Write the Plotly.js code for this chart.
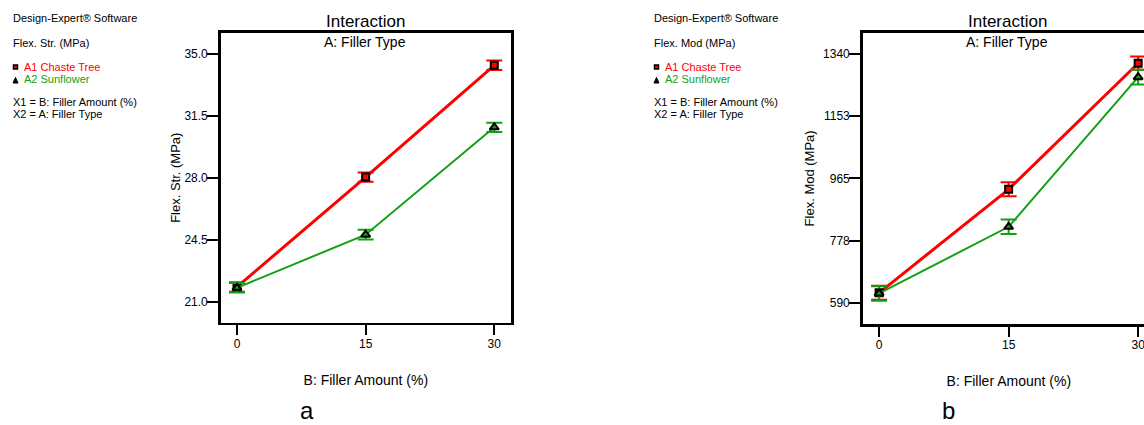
<!DOCTYPE html>
<html><head><meta charset="utf-8">
<script src="https://cdn.plot.ly/plotly-3.0.1.min.js"></script>
<style>html,body{margin:0;padding:0;background:#fff;overflow:hidden;width:1144px;height:425px}#chart{width:1160px;height:425px}</style>
</head><body><div id="chart"></div>
<script>
// Data
const fillerAmount = [0, 15, 30];
const xTickLabels = ['0', '15', '30'];
// Panel a: Flex. Str. (MPa)
const strChaste = [21.85, 28.05, 34.36];
const strChasteErr = [0.27, 0.26, 0.27];
const strSunflower = [21.8, 24.8, 30.86];
const strSunflowerErr = [0.27, 0.28, 0.26];
const strTicks = [21.0, 24.5, 28.0, 31.5, 35.0];
const strTickLabels = ['21.0', '24.5', '28.0', '31.5', '35.0'];
// Panel b: Flex. Mod (MPa)
const modChaste = [620, 932, 1312];
const modChasteErr = [21, 21, 20];
const modSunflower = [618, 819, 1270];
const modSunflowerErr = [22, 22, 22];
const modTicks = [590, 777.5, 965, 1152.5, 1340];
const modTickLabels = ['590', '778', '965', '1153', '1340'];

const RED = '#ff0000', GREEN = '#14a014';
const FONT = 'Liberation Sans, Arial, sans-serif';
const W = 1160, H = 425;

function series(x, y, err, color, lw, symbol, size, xa, ya) {
  return {
    x: x, y: y, xaxis: xa, yaxis: ya, type: 'scatter', mode: 'lines+markers',
    line: {color: color, width: lw},
    marker: {symbol: symbol, size: size, color: color, line: {color: '#000', width: 2}},
    error_y: {type: 'data', array: err, visible: true, color: color, thickness: 2, width: 8},
    showlegend: false, hoverinfo: 'skip', cliponaxis: false
  };
}

const data = [
  series(fillerAmount, strChaste, strChasteErr, RED, 3, 'square', 7, 'x', 'y'),
  series(fillerAmount, strSunflower, strSunflowerErr, GREEN, 2, 'triangle-up', 8, 'x', 'y'),
  series(fillerAmount, modChaste, modChasteErr, RED, 3, 'square', 7, 'x2', 'y2'),
  series(fillerAmount, modSunflower, modSunflowerErr, GREEN, 2, 'triangle-up', 8, 'x2', 'y2')
];

function xAxis(domain) {
  return {
    domain: domain, range: [-1.9, 31.95], tickmode: 'array', tickvals: fillerAmount, ticktext: xTickLabels,
    ticks: 'outside', ticklen: 10, tickwidth: 2, tickcolor: '#000', showgrid: false, zeroline: false,
    showline: true, linecolor: '#000', linewidth: 2.5, mirror: true,
    tickfont: {family: FONT, size: 12, color: '#000'}, ticklabelstandoff: -2,
    title: {text: 'B: Filler Amount (%)', font: {family: FONT, size: 14, color: '#000'}, standoff: 26}
  };
}
function yAxis(domain, range, tv, tt, title, anchor, standoff) {
  return {
    domain: domain, range: range, tickmode: 'array', tickvals: tv, ticktext: tt, anchor: anchor,
    ticks: 'outside', ticklen: 11, tickwidth: 2, tickcolor: '#000', showgrid: false, zeroline: false,
    showline: true, linecolor: '#000', linewidth: 2.5, mirror: true,
    tickfont: {family: FONT, size: 12, color: '#000'}, ticklabelstandoff: -3,
    title: {text: title, font: {family: FONT, size: 13, color: '#000'}, standoff: standoff}
  };
}

const yDomTop = (H - 32.7) / H;
const xa = xAxis([220.7 / W, 511 / W]);
const xb = xAxis([862.7 / W, 1155 / W]); xb.anchor = 'y2';
xa.anchor = 'y';

function px(x) { return x / W; }
function py(y) { return (H - y) / H; }

function infoBlock(x0, respName) {
  const a = [];
  const base = {xref: 'paper', yref: 'paper', xanchor: 'left', yanchor: 'middle', showarrow: false,
                font: {family: FONT, size: 11, color: '#000'}};
  a.push(Object.assign({}, base, {x: px(x0), y: py(18), text: 'Design-Expert® Software'}));
  a.push(Object.assign({}, base, {x: px(x0), y: py(43), text: respName}));
  a.push(Object.assign({}, base, {x: px(x0 + 11), y: py(67), text: 'A1 Chaste Tree', font: {family: FONT, size: 11, color: RED}}));
  a.push(Object.assign({}, base, {x: px(x0 + 11), y: py(79), text: 'A2 Sunflower', font: {family: FONT, size: 11, color: GREEN}}));
  a.push(Object.assign({}, base, {x: px(x0), y: py(102), text: 'X1 = B: Filler Amount (%)'}));
  a.push(Object.assign({}, base, {x: px(x0), y: py(114), text: 'X2 = A: Filler Type'}));
  return a;
}
function legendShapes(x0) {
  const cx = x0 + 3.5;
  return [
    {type: 'rect', xref: 'paper', yref: 'paper', x0: px(cx - 2), x1: px(cx + 2), y0: py(69), y1: py(65),
     fillcolor: RED, line: {color: '#000', width: 1.5}},
    {type: 'path', xref: 'paper', yref: 'paper',
     path: 'M ' + px(cx - 2.5) + ' ' + py(83) + ' L ' + px(cx + 2.5) + ' ' + py(83) + ' L ' + px(cx) + ' ' + py(77.5) + ' Z',
     fillcolor: '#000', line: {color: '#000', width: 1}}
  ];
}

function titleAnn(cx) {
  return [
    {xref: 'paper', yref: 'paper', x: px(cx), y: py(22), text: 'Interaction', showarrow: false,
     xanchor: 'center', yanchor: 'middle', font: {family: FONT, size: 17, color: '#000'}},
    {xref: 'paper', yref: 'paper', x: px(cx), y: py(42.5), text: 'A: Filler Type', showarrow: false,
     xanchor: 'center', yanchor: 'middle', font: {family: FONT, size: 14, color: '#000'}}
  ];
}

const annotations = [].concat(
  infoBlock(10.5, 'Flex. Str. (MPa)'),
  infoBlock(651.5, 'Flex. Mod (MPa)'),
  titleAnn(365), titleAnn(1007),
  [{xref: 'paper', yref: 'paper', x: px(307), y: py(410), text: 'a', showarrow: false, xanchor: 'center', yanchor: 'middle', font: {family: FONT, size: 24, color: '#000'}},
   {xref: 'paper', yref: 'paper', x: px(948), y: py(410), text: 'b', showarrow: false, xanchor: 'center', yanchor: 'middle', font: {family: FONT, size: 24, color: '#000'}}]
);

const layout = {
  width: W, height: H, margin: {l: 0, r: 0, t: 0, b: 0},
  paper_bgcolor: '#fff', plot_bgcolor: '#fff', showlegend: false,
  xaxis: xa,
  yaxis: yAxis([(H - 322.7) / H, yDomTop], [19.83, 36.2], strTicks, strTickLabels, 'Flex. Str. (MPa)', 'x', 1),
  xaxis2: xb,
  yaxis2: yAxis([(H - 324) / H, yDomTop], [526, 1404], modTicks, modTickLabels, 'Flex. Mod (MPa)', 'x2', 6),
  annotations: annotations,
  shapes: [].concat(legendShapes(12), legendShapes(653))
};

Plotly.newPlot('chart', data, layout, {staticPlot: true, displayModeBar: false});
</script>
</body></html>
